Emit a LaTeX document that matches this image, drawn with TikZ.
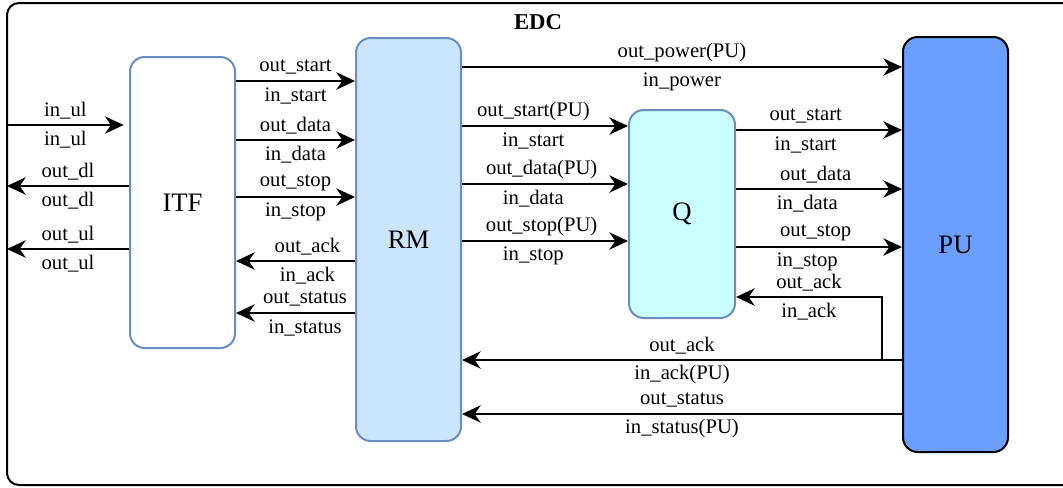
\documentclass[tikz,border=0pt]{standalone}
\usepackage{fontspec}
\setmainfont{Liberation Serif}
\usepackage{tikz}
\usetikzlibrary{arrows.meta}

\definecolor{edgeblue}{RGB}{108,142,191}
\definecolor{rmfill}{RGB}{204,229,255}
\definecolor{qfill}{RGB}{204,255,255}
\definecolor{pufill}{RGB}{108,158,255}

\begin{document}
\begin{tikzpicture}[x=0.75pt,y=-0.75pt,
    blk/.style={draw=edgeblue,line width=1.5pt,rounded corners=11pt,font=\fontsize{20}{24}\selectfont},
    sig/.style={line width=1.5pt,-{Stealth[length=14pt,width=13pt,inset=4.5pt]}},
    labup/.style={midway,yshift=10.5pt,font=\fontsize{15.5}{18}\selectfont},
    labdn/.style={midway,yshift=-11pt,font=\fontsize{15.5}{18}\selectfont}]
    \useasboundingbox (0,0) rectangle (1063,487);
    \draw[line width=1.5pt,rounded corners=9pt] (7,3) rectangle (1080,485);
    \node[font=\fontsize{17}{20}\selectfont\bfseries] (EDC) at (538,22) {EDC};
    \coordinate (edgeL) at (7,0);

    \node[blk,fill=white,minimum width=78.75pt,minimum height=218.25pt] (ITF) at (182.5,202.5) {ITF};
    \node[blk,fill=rmfill,minimum width=78.75pt,minimum height=302.25pt] (RM) at (408.5,239.5) {RM};
    \node[blk,fill=qfill,minimum width=79.5pt,minimum height=156pt] (Q) at (682,214) {Q};
    \node[blk,draw=black,fill=pufill,minimum width=78.75pt,minimum height=311.25pt] (PU) at (955.5,244.5) {PU};
    \coordinate (ackQ) at (882,297);

    % outside <-> ITF
    \draw[sig] (edgeL |- 0,125) -- node[labup]{in\_ul} node[labdn]{in\_ul} ([xshift=-4pt]ITF.west |- 0,125);
    \draw[sig] (ITF.west |- 0,186) -- node[labup]{out\_dl} node[labdn]{out\_dl} (edgeL |- 0,186);
    \draw[sig] (ITF.west |- 0,249) -- node[labup]{out\_ul} node[labdn]{out\_ul} (edgeL |- 0,249);

    % ITF <-> RM
    \draw[sig] (ITF.east |- 0,81) -- node[labup]{out\_start} node[labdn]{in\_start} (RM.west |- 0,81);
    \draw[sig] (ITF.east |- 0,140) -- node[labup]{out\_data} node[labdn]{in\_data} (RM.west |- 0,140);
    \draw[sig] (ITF.east |- 0,197) -- node[labup]{out\_stop} node[labdn]{in\_stop} (RM.west |- 0,197);
    \draw[sig] (RM.west |- 0,261) -- node[labup,pos=.4]{out\_ack} node[labdn,pos=.4]{in\_ack} (ITF.east |- 0,261);
    \draw[sig] (RM.west |- 0,313) -- node[labup,pos=.42]{out\_status} node[labdn,pos=.42]{in\_status} (ITF.east |- 0,313);

    % RM -> Q, RM -> PU
    \draw[sig] (RM.east |- 0,67) -- node[labup]{out\_power(PU)} node[labdn]{in\_power} (PU.west |- 0,67);
    \draw[sig] (RM.east |- 0,126) -- node[labup,pos=.43]{out\_start(PU)} node[labdn,pos=.43]{in\_start} (Q.west |- 0,126);
    \draw[sig] (RM.east |- 0,184) -- node[labup,pos=.48]{out\_data(PU)} node[labdn,pos=.43]{in\_data} (Q.west |- 0,184);
    \draw[sig] (RM.east |- 0,241) -- node[labup,pos=.48]{out\_stop(PU)} node[labdn,pos=.43]{in\_stop} (Q.west |- 0,241);

    % Q -> PU
    \draw[sig] (Q.east |- 0,130) -- node[labup,pos=.42]{out\_start} node[labdn,pos=.42]{in\_start} (PU.west |- 0,130);
    \draw[sig] (Q.east |- 0,189) -- node[labup,pos=.48]{out\_data} node[labdn,pos=.43]{in\_data} (PU.west |- 0,189);
    \draw[sig] (Q.east |- 0,247) -- node[labup,pos=.48]{out\_stop} node[labdn,pos=.43]{in\_stop} (PU.west |- 0,247);

    % PU -> Q, PU -> RM
    \draw[sig] (PU.west |- 0,360) -| (ackQ) -- node[labup]{out\_ack} node[labdn]{in\_ack} (Q.east |- ackQ);
    \draw[sig] (PU.west |- 0,360) -- node[labup]{out\_ack} node[labdn]{in\_ack(PU)} (RM.east |- 0,360);
    \draw[sig] (PU.west |- 0,414) -- node[labup]{out\_status} node[labdn]{in\_status(PU)} (RM.east |- 0,414);
\end{tikzpicture}
\end{document}
